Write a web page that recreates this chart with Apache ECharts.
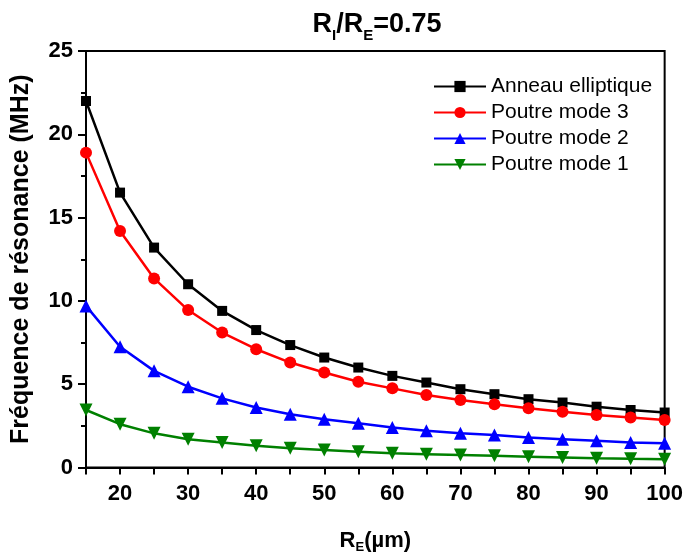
<!DOCTYPE html>
<html><head><meta charset="utf-8">
<script src="https://cdn.jsdelivr.net/npm/echarts@6/dist/echarts.min.js"></script>
<style>html,body{margin:0;padding:0;background:#fff}#c{width:686px;height:559px}</style>
</head><body><div id="c"></div>
<script>
const xValues = [15,20,25,30,35,40,45,50,55,60,65,70,75,80,85,90,95,100];
const anneau = [22.0,16.5,13.2,11.0,9.4,8.25,7.35,6.6,6.0,5.5,5.1,4.7,4.4,4.1,3.9,3.65,3.45,3.3];
const mode3 = [18.9,14.2,11.35,9.45,8.1,7.1,6.3,5.7,5.15,4.75,4.35,4.05,3.8,3.55,3.35,3.15,3.0,2.85];
const mode2 = [9.7,7.25,5.8,4.85,4.15,3.6,3.2,2.9,2.65,2.4,2.2,2.05,1.95,1.8,1.7,1.6,1.5,1.45];
const mode1 = [3.45,2.6,2.05,1.7,1.5,1.3,1.15,1.05,0.95,0.85,0.8,0.75,0.7,0.65,0.6,0.55,0.52,0.5];
const seriesNames = ['Anneau elliptique','Poutre mode 3','Poutre mode 2','Poutre mode 1'];
const yTicks = [0,5,10,15,20,25];

const F = 'Liberation Sans, Arial, sans-serif';
const pair = arr => xValues.map((x,i)=>[x,arr[i]]);
const chart = echarts.init(document.getElementById('c'));
const mk = (name, data, color, symbol, size, rot) => ({
  name, type:'line', data: pair(data), symbol, symbolSize:size, symbolRotate: rot||0,
  lineStyle:{color, width:2.5}, itemStyle:{color}, color
});
chart.setOption({
  animation:false,
  title:{
    text:'{n|R}{s|I}{n|/R}{s|E}{n|=0.75}', left:372, textAlign:'center', top:2,
    textStyle:{rich:{
      n:{fontFamily:F,fontWeight:'bold',fontSize:27,color:'#000',lineHeight:36},
      s:{fontFamily:F,fontWeight:'bold',fontSize:15,color:'#000',lineHeight:36,padding:[22,0,0,0]}
    }}
  },
  legend:{
    orient:'vertical', left:428, top:71, itemGap:5, itemWidth:52, itemHeight:14,
    textStyle:{fontFamily:F,fontSize:21,color:'#000'},
    data: seriesNames
  },
  grid:{left:86,right:20,top:51,bottom:85,show:true,borderColor:'#000',borderWidth:2,containLabel:false},
  xAxis:{
    type:'value', min:15, max:100, interval:5,
    axisLine:{lineStyle:{color:'#000',width:2}},
    axisTick:{length:7,lineStyle:{color:'#000',width:2}},
    splitLine:{show:false},
    axisLabel:{fontFamily:F,fontWeight:'bold',fontSize:22,color:'#000',margin:15,
      formatter:v=> (v%10===0? String(v):'')},
    name:'{n|R}{s|E}{n|(µm)}', nameLocation:'middle', nameGap:58,
    nameTextStyle:{rich:{
      n:{fontFamily:F,fontWeight:'bold',fontSize:22,color:'#000',lineHeight:30},
      s:{fontFamily:F,fontWeight:'bold',fontSize:13,color:'#000',lineHeight:30,padding:[14,0,0,0]}
    }}
  },
  yAxis:{
    type:'value', min:0, max:25, interval:5,
    axisLine:{lineStyle:{color:'#000',width:2}},
    axisTick:{length:8,lineStyle:{color:'#000',width:2}},
    minorTick:{show:true,splitNumber:2,length:5,lineStyle:{color:'#000',width:2}},
    splitLine:{show:false},
    axisLabel:{fontFamily:F,fontWeight:'bold',fontSize:22,color:'#000',margin:13,
      formatter:v=> yTicks.includes(v)? String(v):''},
    name:'Fréquence de résonance (MHz)', nameLocation:'middle', nameGap:52, nameRotate:90,
    nameTextStyle:{fontFamily:F,fontWeight:'bold',fontSize:25,color:'#000'}
  },
  series:[
    mk(seriesNames[0], anneau, '#000000','rect',10),
    mk(seriesNames[1], mode3, '#ff0000','circle',12),
    mk(seriesNames[2], mode2, '#0000ff','triangle',13),
    mk(seriesNames[3], mode1, '#008000','triangle',13,180)
  ]
});
</script></body></html>
